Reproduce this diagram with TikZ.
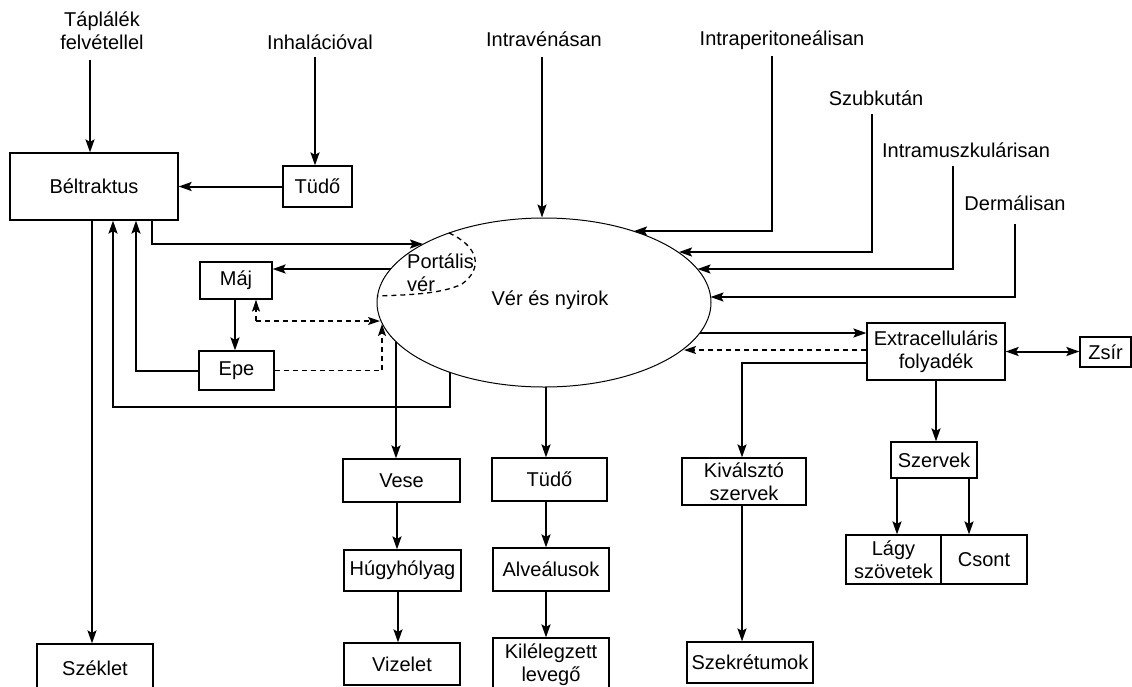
\documentclass[tikz,border=0pt]{standalone}
\usepackage{fontspec}
\setmainfont{Liberation Sans}
\usetikzlibrary{arrows.meta,shapes.geometric}
\newcommand\dfont{\fontsize{20}{23}\selectfont}
\begin{document}
\begin{tikzpicture}[x=1pt,y=-1pt,
  box/.style={draw, line width=1.2pt, inner sep=0pt, align=center, font=\dfont},
  lbl/.style={inner sep=0pt, align=center, font=\dfont},
  conn/.style={line width=2pt, -{Stealth[length=13pt,width=9pt,inset=2.5pt]}},
  dconn/.style={line width=2pt, {Stealth[length=13pt,width=9pt,inset=2.5pt]}-{Stealth[length=13pt,width=9pt,inset=2.5pt]}},
  dsh/.style={line width=1.3pt, dash pattern=on 5pt off 4pt},
  dsharrow/.style={dsh, -{Stealth[length=12pt,width=8pt,inset=2.5pt]}}]
\useasboundingbox (0,0) rectangle (1132,686);
\clip (0,0) rectangle (1132,686);

% labels
\node[lbl] (tap) at (102,31) {Táplálék\\felvétellel};
\node[lbl] (inh) at (320,42) {Inhalációval};
\node[lbl] (iv) at (544,39) {Intravénásan};
\node[lbl] (ip) at (782,40) {Intraperitoneálisan};
\node[lbl] (sc) at (876,98) {Szubkután};
\node[lbl] (im) at (966,150) {Intramuszkulárisan};
\node[lbl] (de) at (1015,203) {Dermálisan};

% boxes
\node[box, minimum width=168pt, minimum height=67pt] (belt) at (94,186.5) {Béltraktus};
\node[box, minimum width=69pt, minimum height=41pt] (tudoA) at (317.5,186.5) {Tüdő};
\node[box, minimum width=72pt, minimum height=37pt] (maj) at (236,280.5) {Máj};
\node[box, minimum width=75pt, minimum height=39pt] (epe) at (236.5,370.5) {Epe};
\node[draw, ellipse, line width=1pt, minimum width=334pt, minimum height=169pt, inner sep=0pt] (ell) at (544,302.5) {};
\node[lbl] (ven) at (550,300) {Vér és nyirok};
\node[lbl, align=left, anchor=west] (port) at (407,273) {Portális\\vér};
\node[box, minimum width=138pt, minimum height=57pt] (extra) at (936,351.5) {Extracelluláris\\folyadék};
\node[box, minimum width=51pt, minimum height=30pt] (zsir) at (1105.5,352) {Zsír};
\node[box, minimum width=86pt, minimum height=36pt] (szerv) at (934,460) {Szervek};
\node[box, minimum width=95pt, minimum height=49pt] (lagy) at (893.5,559.5) {Lágy\\szövetek};
\node[box, minimum width=86pt, minimum height=49pt] (csont) at (984,559.5) {Csont};
\node[box, minimum width=124pt, minimum height=47pt] (kival) at (744,481.5) {Kiválsztó\\szervek};
\node[box, minimum width=126pt, minimum height=41pt] (szekr) at (750,662.5) {Szekrétumok};
\node[box, minimum width=117pt, minimum height=43pt] (vese) at (401.5,480.5) {Vese};
\node[box, minimum width=117pt, minimum height=41pt] (hugy) at (402.5,570.5) {Húgyhólyag};
\node[box, minimum width=116pt, minimum height=42pt] (viz) at (402,664) {Vizelet};
\node[box, minimum width=115pt, minimum height=43pt] (tudoB) at (549.5,479.5) {Tüdő};
\node[box, minimum width=116pt, minimum height=43pt] (alve) at (551,569.5) {Alveálusok};
\node[box, minimum width=116pt, minimum height=54pt] (kilel) at (551,665) {Kilélegzett\\levegő};
\node[box, minimum width=116pt, minimum height=48pt] (szek) at (95,668) {Széklet};

% portal region
\draw[dsh] (449,233) .. controls (478,246) and (484,268) .. (462,284) .. controls (440,295) and (400,295) .. (377,296);

% coordinates (free ends)
\coordinate (tapS) at (90,60);
\coordinate (inhS) at (315,57);
\coordinate (ivS) at (542,57);
\coordinate (ipS) at (772,56);
\coordinate (ipE) at (634,231);
\coordinate (scS) at (872,114);
\coordinate (scE) at (679,252);
\coordinate (imS) at (953,166);
\coordinate (imE) at (697.5,269);
\coordinate (deS) at (1015,224);
\coordinate (deE) at (710.5,297);
\coordinate (eB) at (450,372.3);
\coordinate (eBc) at (450,407);
\coordinate (eP) at (423,244);
\coordinate (eM) at (390.7,269);
\coordinate (dj) at (256,321);
\coordinate (eD1) at (380,321);
\coordinate (eD2) at (382,324);
\coordinate (eV) at (396,341.6);
\coordinate (eT) at (546,387);
\coordinate (eX1) at (700,333);
\coordinate (eX2) at (684,350);

% inputs
\draw[conn] (tapS) -- (tapS |- belt.north);
\draw[conn] (inhS) -- (inhS |- tudoA.north);
\draw[conn] (tudoA.west) -- (belt.east);
\draw[conn] (ivS) -- (ivS |- ell.north);
\draw[conn] (ipS) |- (ipE);
\draw[conn] (scS) |- (scE);
\draw[conn] (imS) |- (imE);
\draw[conn] (deS) |- (deE);

% gut connections
\draw[conn] ([xshift=-2pt]belt.south) -- ([xshift=-2pt]belt.south |- szek.north);
\draw[conn] (eB) -- (eBc) -| ([xshift=19pt]belt.south);
\draw[conn] (epe.west) -| ([xshift=42pt]belt.south);
\draw[conn] ([xshift=58pt]belt.south) |- (eP);
\draw[conn] (eM) -- (eM -| maj.east);
\draw[conn] ([xshift=-1pt]maj.south) -- ([xshift=-1pt]maj.south |- epe.north);
\draw[dsharrow] (dj) -- (eD1);
\draw[dsharrow] (dj) -- (dj |- maj.south);
\draw[dsharrow] (epe.east) -| (eD2);

% outputs down
\draw[conn] (eV) -- (eV |- vese.north);
\draw[conn] ([xshift=-4.5pt]vese.south) -- ([xshift=-4.5pt]vese.south |- hugy.north);
\draw[conn] ([xshift=-4.5pt]hugy.south) -- ([xshift=-4.5pt]hugy.south |- viz.north);
\draw[conn] (eT) -- (eT |- tudoB.north);
\draw[conn] ([xshift=-3.5pt]tudoB.south) -- ([xshift=-3.5pt]tudoB.south |- alve.north);
\draw[conn] ([xshift=-5pt]alve.south) -- ([xshift=-5pt]alve.south |- kilel.north);

% extracellular
\draw[conn] (eX1) -- (eX1 -| extra.west);
\draw[dsharrow] (extra.west |- eX2) -- (eX2);
\draw[conn] ([yshift=-11.5pt]extra.west) -| ([xshift=-2pt]kival.north);
\draw[dconn] (extra.east) -- (extra.east -| zsir.west);
\draw[conn] (extra.south) -- (extra.south |- szerv.north);
\draw[conn] ([xshift=-37pt]szerv.south) -- ([xshift=-37pt]szerv.south |- lagy.north);
\draw[conn] ([xshift=35pt]szerv.south) -- ([xshift=35pt]szerv.south |- csont.north);
\draw[conn] ([xshift=-2pt]kival.south) -- ([xshift=-2pt]kival.south |- szekr.north);
\end{tikzpicture}
\end{document}
